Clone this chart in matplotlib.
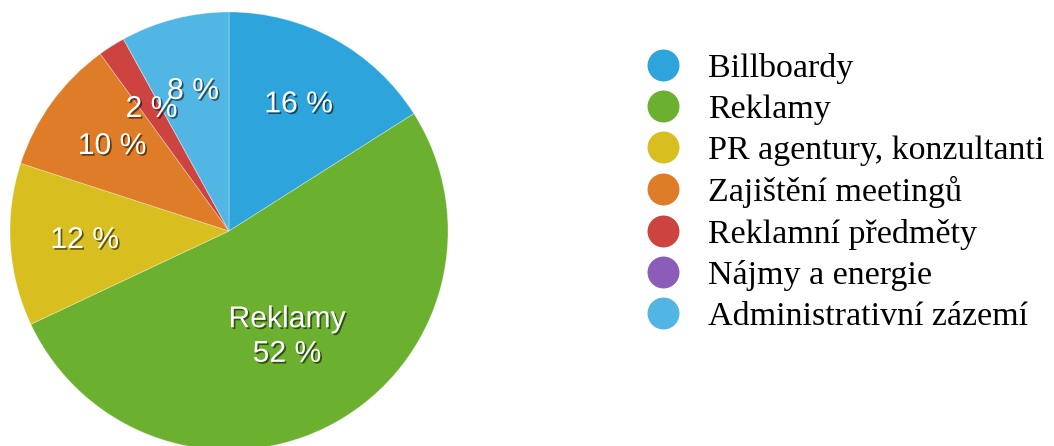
import matplotlib.pyplot as plt
import matplotlib.patheffects as pe
from matplotlib.lines import Line2D
import numpy as np

categories = ['Billboardy', 'Reklamy', 'PR agentury, konzultanti', 'Zajištění meetingů',
              'Reklamní předměty', 'Nájmy a energie', 'Administrativní zázemí']
values = [16, 52, 12, 10, 2, 0, 8]
colors = ['#2DA5DC', '#6BB02F', '#D8BE1F', '#DE7C27', '#CD4340', '#8B5DB9', '#52B6E4']

W, H = 1054, 446
fig = plt.figure(figsize=(W / 100, H / 100), dpi=100)
ax = fig.add_axes([0, 0, 1, 1])

shadow = [pe.withSimplePatchShadow(offset=(1.2, -1.2), shadow_rgbFace='black', alpha=0.55)]


def pct(p):
    return '' if p < 0.5 else f'{p:.0f} %'


wedges, texts, autotexts = ax.pie(values, colors=colors, startangle=90, counterclock=False,
                                  center=(229, 215), radius=219, autopct=pct, pctdistance=0.66,
                                  wedgeprops=dict(edgecolor=(1, 1, 1, 0.35), linewidth=0.6),
                                  textprops=dict(color='white', fontsize=21.7,
                                                 family='Liberation Sans'))
for t in autotexts:
    t.set_path_effects(shadow)

# big slice: category name plus value, closer to the centre
w = wedges[1]
mid = np.deg2rad((w.theta1 + w.theta2) / 2)
autotexts[1].set_text(f'{categories[1]}\n{values[1]} %')
autotexts[1].set_position((229 + 0.55 * 219 * np.cos(mid), 215 + 0.55 * 219 * np.sin(mid)))
autotexts[1].set_linespacing(1.3)

ax.set_xlim(0, W)
ax.set_ylim(0, H)
ax.set_aspect('auto')
ax.axis('off')

handles = [Line2D([], [], marker='o', linestyle='', markersize=23, markerfacecolor=c,
                  markeredgecolor='none') for c in colors]
ax.legend(handles, categories, loc='upper left', bbox_to_anchor=(646 / W, 1 - 53 / H),
          bbox_transform=fig.transFigure, frameon=False, borderpad=0, borderaxespad=0,
          handlelength=1.0, handletextpad=0.82, labelspacing=0.30,
          prop=dict(family='Liberation Serif', size=24.5))

fig.savefig('out.png', dpi=100)
